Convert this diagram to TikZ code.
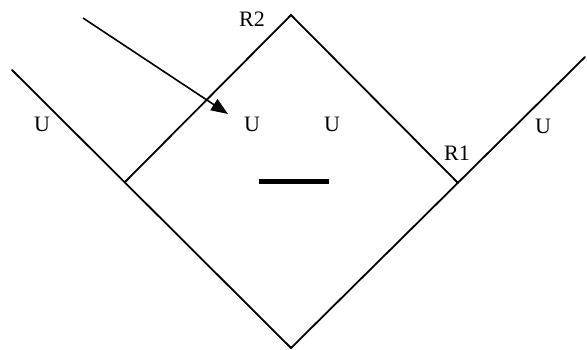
\documentclass[tikz,border=0pt]{standalone}
\usepackage{fontspec}
\setmainfont{Liberation Serif}
\usetikzlibrary{arrows.meta}
\begin{document}
\begin{tikzpicture}[x=1pt,y=-1pt,
  ln/.style={line width=1.8pt,line cap=round},
  lbl/.style={font=\fontsize{22}{24}\selectfont,inner sep=0pt}]
\useasboundingbox (0,0) rectangle (587,349);
\coordinate (L) at (12,70);
\coordinate (W) at (125,182);
\coordinate (T) at (291,15);
\coordinate (E) at (458,183);
\coordinate (B) at (291,348);
\coordinate (Rt) at (585,57);
\coordinate (A0) at (83,18);
\coordinate (A1) at (228,114);
\coordinate (b0) at (259,181);
\coordinate (b1) at (329,181);
\draw[ln] (L) -- (B) -- (Rt);
\draw[ln] (W) -- (T) -- (E);
\draw[line width=1.6pt,-{Triangle[length=17pt,width=13pt]}] (A0) -- (A1);
\draw[line width=5pt] (b0) -- (b1);
\node[lbl] (r2) at (252,19) {R2};
\node[lbl] (u1) at (42,124) {U};
\node[lbl] (u2) at (252,124) {U};
\node[lbl] (u3) at (332,124) {U};
\node[lbl] (r1) at (457,153) {R1};
\node[lbl] (u4) at (543,126) {U};
\end{tikzpicture}
\end{document}
